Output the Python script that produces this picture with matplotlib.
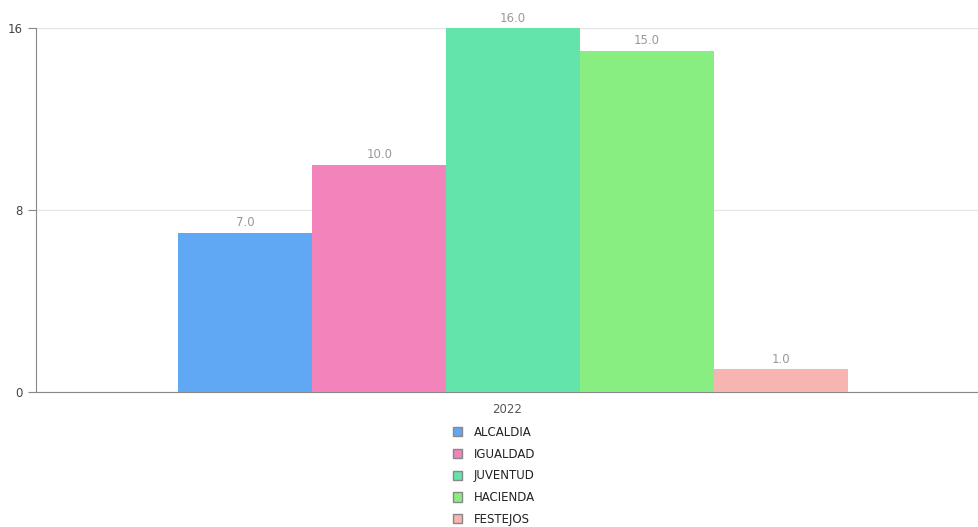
import numpy as np
import matplotlib.pyplot as plt
from matplotlib.patches import Patch

year = ['2022']
areas = ['ALCALDIA', 'IGUALDAD', 'JUVENTUD', 'HACIENDA', 'FESTEJOS']
values = [7.0, 10.0, 16.0, 15.0, 1.0]
colors = ['#60a8f4', '#f283bb', '#63e4aa', '#88ee82', '#f6b5b1']

fig = plt.figure(figsize=(9.79, 5.27), dpi=100)
ax = fig.add_axes([36/979, 135/527, 943/979, 364/527])

w = 0.142
x = np.arange(len(year))
for i, (a, v, c) in enumerate(zip(areas, values, colors)):
    pos = x + (i - 2) * w + 0.006
    ax.bar(pos, [v], width=w, color=c, label=a, zorder=3)
    ax.text(pos[0], v + 0.15, '%.1f' % v, ha='center', va='bottom',
            fontsize=8.5, color='#999999')

ax.set_xlim(-0.5, 0.5)
ax.set_ylim(0, 16)
ax.set_yticks([0, 8, 16])
ax.set_xticks(x)
ax.set_xticklabels(year)
ax.yaxis.grid(True, color='#e6e6e6', linewidth=1, zorder=0)
for s in ['top', 'right']:
    ax.spines[s].set_visible(False)
for s in ['left', 'bottom']:
    ax.spines[s].set_color('#888888')
ax.tick_params(axis='y', colors='#888888', labelcolor='#444444', labelsize=8.5, length=6)
ax.tick_params(axis='x', length=0, labelcolor='#555555', labelsize=8.5, pad=8)

handles = [Patch(facecolor=c, edgecolor='#888888', linewidth=1) for c in colors]
fig.legend(handles, areas, loc='upper left', bbox_to_anchor=(447/979, 1 - 420/527),
           frameon=False, fontsize=8.5, handlelength=0.8, handleheight=0.8,
           handletextpad=0.95, labelspacing=0.74, borderpad=0, labelcolor='#222222')

fig.savefig('out.png', dpi=100)
